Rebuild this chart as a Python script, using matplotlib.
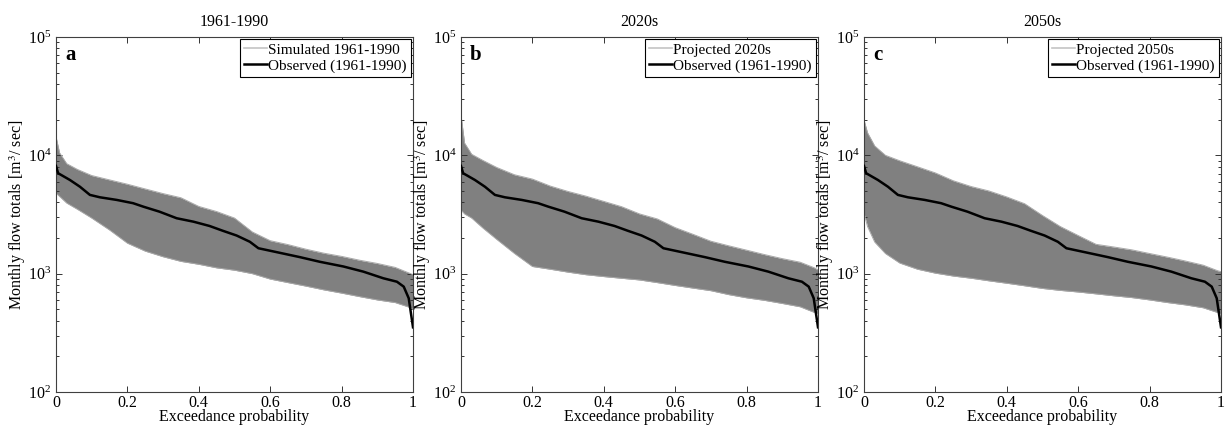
import numpy as np
import matplotlib
matplotlib.use("Agg")
import matplotlib.pyplot as plt
from matplotlib.ticker import LogLocator, FixedLocator, NullFormatter

plt.rcParams['font.family'] = ['Liberation Serif', 'DejaVu Serif']
plt.rcParams['mathtext.fontset'] = 'stix'

# observed flow duration curve (1961-1990), same in every panel
p_obs = [0, 0.006, 0.039, 0.067, 0.095, 0.123, 0.17, 0.216, 0.245, 0.29, 0.338,
         0.385, 0.43, 0.468, 0.506, 0.543, 0.567, 0.627, 0.683, 0.739, 0.805,
         0.861, 0.917, 0.955, 0.974, 0.988, 0.997, 1.0]
q_obs = [8130, 7060, 6190, 5430, 4630, 4420, 4200, 3940, 3680, 3340, 2940,
         2750, 2530, 2300, 2100, 1860, 1640, 1500, 1380, 1260, 1150,
         1040, 914, 855, 777, 620, 406, 352]

# ensemble envelope (upper / lower edge of the grey band)
p_env = [0, 0.01, 0.03, 0.06, 0.1, 0.15, 0.2, 0.25, 0.3, 0.35, 0.4, 0.45,
         0.5, 0.55, 0.6, 0.65, 0.7, 0.75, 0.8, 0.85, 0.9, 0.95, 0.99, 1.0]

upper_a = [14400, 10500, 8500, 7600, 6750, 6200, 5700, 5200, 4750, 4380, 3700, 3350,
           2950, 2250, 1900, 1760, 1610, 1490, 1400, 1300, 1220, 1130, 1010, 980]
lower_a = [4800, 4500, 3950, 3500, 2950, 2340, 1810, 1550, 1390, 1270, 1200, 1120,
           1070, 1000, 900, 840, 785, 730, 685, 640, 600, 570, 520, 500]

upper_b = [21900, 12700, 10200, 9100, 7900, 6850, 6300, 5500, 4950, 4520, 4080, 3680,
           3200, 2900, 2450, 2150, 1880, 1720, 1580, 1450, 1340, 1250, 1120, 1075]
lower_b = [3450, 3200, 2950, 2450, 1950, 1480, 1150, 1090, 1030, 980, 945, 914,
           885, 840, 795, 755, 718, 665, 625, 595, 560, 525, 470, 460]

upper_c = [19900, 15500, 12000, 10000, 9000, 8000, 7100, 6100, 5450, 5000, 4450, 3900,
           3100, 2500, 2100, 1770, 1680, 1590, 1480, 1380, 1280, 1180, 1060, 1040]
lower_c = [3240, 2500, 1850, 1480, 1230, 1090, 1010, 955, 915, 870, 830, 790,
           750, 722, 700, 675, 650, 628, 600, 570, 545, 515, 470, 460]

titles = ['1961-1990', '2020s', '2050s']
letters = ['a', 'b', 'c']
sim_labels = ['Simulated 1961-1990', 'Projected 2020s', 'Projected 2050s']
uppers = [upper_a, upper_b, upper_c]
lowers = [lower_a, lower_b, lower_c]

fig = plt.figure(figsize=(12.3, 4.28), dpi=100)
lefts = [56 / 1230, 461 / 1230, 864 / 1230]
w, bottom, h = 357 / 1230, 36 / 428, 355 / 428

for i in range(3):
    ax = fig.add_axes([lefts[i], bottom, w, h])
    ax.fill_between(p_env, lowers[i], uppers[i], color='#808080', lw=0, zorder=1)
    ax.plot(p_env, uppers[i], color='#a8a8a8', lw=0.7, zorder=2)
    ax.plot(p_env, lowers[i], color='#a8a8a8', lw=0.7, zorder=2)
    # legend proxy
    ax.plot([], [], color='#c4c4c4', lw=1.2, label=sim_labels[i])
    ax.plot(p_obs, q_obs, color='black', lw=1.8, zorder=3, label='Observed (1961-1990)')

    ax.set_yscale('log')
    ax.set_xlim(0, 1)
    ax.set_ylim(100, 100000)
    ax.xaxis.set_major_locator(FixedLocator([0, 0.2, 0.4, 0.6, 0.8, 1.0]))
    ax.set_xticklabels(['0', '0.2', '0.4', '0.6', '0.8', '1'])
    ax.yaxis.set_major_locator(LogLocator(base=10, numticks=10))
    ax.yaxis.set_minor_locator(LogLocator(base=10, subs=np.arange(2, 10), numticks=10))
    ax.yaxis.set_minor_formatter(NullFormatter())
    ax.tick_params(which='both', direction='in', top=True, right=True,
                   labelsize=11.5, color='#333333', width=0.7)
    ax.tick_params(which='major', length=4)
    ax.tick_params(which='minor', length=2)
    ax.tick_params(axis='x', pad=2)
    for s in ax.spines.values():
        s.set_color('#404040')
        s.set_linewidth(0.8)

    ax.set_title(titles[i], fontsize=11.5, pad=8)
    ax.set_xlabel('Exceedance probability', fontsize=11.5, labelpad=-1)
    ax.set_ylabel('Monthly flow totals [m$^3$/ sec]', fontsize=11.5, labelpad=0)
    ax.text(0.025, 0.95, letters[i], transform=ax.transAxes, fontsize=15,
            fontweight='bold', va='center', ha='left')

    leg = ax.legend(loc='upper right', fontsize=11, frameon=True, fancybox=False,
                    edgecolor='black', framealpha=1, borderpad=0.25,
                    labelspacing=0.15, handlelength=1.5, handletextpad=0.1,
                    borderaxespad=0.15)
    leg.get_frame().set_linewidth(0.8)

fig.savefig('out.png', dpi=100)
